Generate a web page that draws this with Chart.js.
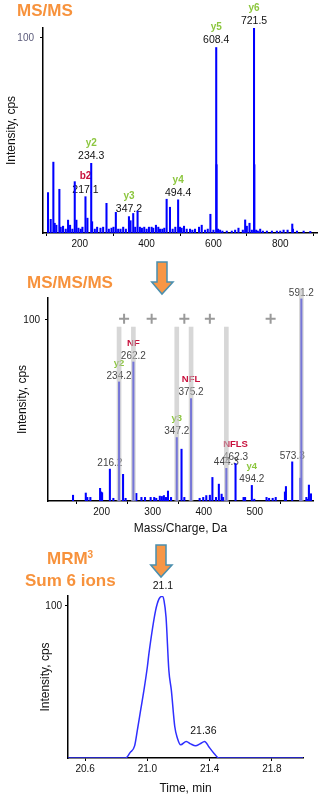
<!DOCTYPE html>
<html><head><meta charset="utf-8">
<script src="https://cdn.jsdelivr.net/npm/chart.js@4.4.1/dist/chart.umd.min.js"></script>
<style>
html,body{margin:0;padding:0;background:#fff;overflow:hidden;}
#wrap{position:relative;width:322px;height:800px;overflow:hidden;font-family:"Liberation Sans",Arial,sans-serif;}
canvas{position:absolute;left:0;}
.ttl{position:absolute;color:#F7923C;font-weight:bold;font-size:17px;line-height:19px;white-space:nowrap;}
svg{position:absolute;overflow:visible;}
</style></head><body>
<div id="wrap">
<canvas id="c1" width="322" height="260" style="top:0px"></canvas>
<canvas id="c2" width="322" height="280" style="top:260px"></canvas>
<canvas id="c3" width="322" height="260" style="top:540px"></canvas>
<div class="ttl" style="left:17px;top:1px">MS/MS</div>
<div class="ttl" style="left:27px;top:273px">MS/MS/MS</div>
<div class="ttl" style="left:47px;top:549px">MRM<span style="font-size:10px;position:relative;top:-6px">3</span></div>
<div class="ttl" style="left:25px;top:571px">Sum 6 ions</div>
<svg style="left:150.5px;top:261px" width="23" height="35"><polygon points="6,1 16,1 16,21 22,21 11,33 0.75,21 6,21" fill="#F79646" stroke="#4a8fae" stroke-width="1.5"/></svg>
<svg style="left:150px;top:544px" width="23" height="35"><polygon points="6,1 16,1 16,21 22,21 11,33 0.75,21 6,21" fill="#F79646" stroke="#4a8fae" stroke-width="1.5"/></svg>
</div>
<script>
// ---------- DATA ----------
// MS/MS spectrum
const ms1Mz  = [105,113,121,125,130,139,143,150,158,165,171,178,185,190,196,203,208,217.1,223,234.3,237,245,252,262,270,280,287,295,301,308,315,322,330,338,347.2,352,360,366,373,380,386,393,400,407,415,420,428,435,440,447,453,460,470,478,486,494.4,500,505,512,520,530,537,545,557,565,575,583,591,600,608.4,609.4,614,620,627,640,655,665,675,688,695,700,708,715,721.5,722.5,728,733,740,748,760,775,790,800,810,822,836,838,850,870,890];
const ms1Int = [20.7,7,36.3,5,4,22.4,3,3.5,2,6.6,4,2,26.3,6.6,2.5,2,3,18.6,7.6,35.7,5.8,2,3,2.5,3,15.2,2,2.5,3,10.6,2,2,3,2,8.4,6.3,10,3,11.3,3,2.5,3,2,3,3,2.5,4,3,2,2,2.5,17.3,13.2,2,3,17,3,2.5,3.5,2,2,1.5,2,3,4,1.5,2,9.6,1.5,95,35,2,1.5,1,1,1,1.5,2.5,1.5,6.7,3.5,5,1.5,105,35,1.5,1,2,1,1,1,1,1,1.5,1.5,4.6,2,1,1,0.8];
const ms1LabelMz  = [217.1,234.3,347.2,494.4,608.4,721.5];
const ms1LabelIon = ['b2','y2','y3','y4','y5','y6'];
const ms1XTicks = [200,400,600,800];
const ms1YTicks = [100];

// MS/MS/MS spectrum
const ms3Mz  = [144,169,172,178,197,199,201,216.2,223,234.2,242,247,262.2,268,278,285,296,303,307,314,318,322,326,330,336,347.2,356.5,362,375.2,392,399,405,412,417,424,429.6,435,438,444.3,462.3,478,481,494.2,499,523,528,535,541,559,561,573.3,589,591.2,601,604,606,610];
const ms3Int = [3.2,4.4,2,2,7,5,4.6,17.6,1.5,65.7,14.7,1.5,76.7,4.2,2,2,2,2,1.5,2.7,2.5,3,2,5.5,2,35,28.6,2,56.5,1.5,2,3,3.2,13,2,9.3,3.8,2,18,20.7,2,2,8.6,1,2,1.5,1.5,2,5,8,21.6,12.6,111.5,2,1,8.8,4];
const ms3BandMz  = [234.2,262.2,347.2,375.2,444.3,591.2];
const ms3BandTop = [96,96,96,96,96,117];
const ms3CrossMz = [244,298,362,412,531];
const ms3CrossY  = [100.5,100.5,100.5,100.5,100.5];
const ms3LabelMz  = [216.2,234.2,262.2,347.2,375.2,444.3,462.3,494.2,573.3,591.2];
const ms3LabelIon = ['','y2','NF','y3','NFL','','NFLS','y4','',''];
const ms3XTicks = [200,300,400,500];
const ms3YTicks = [100];

// MRM3 chromatogram
const mrmTime = [20.49,20.86,20.89,20.918,20.936,20.957,20.978,21.0,21.01,21.053,21.075,21.096,21.107,21.12,21.138,21.154,21.176,21.193,21.214,21.25,21.278,21.31,21.338,21.368,21.396,21.43,21.46,22.0];
const mrmInt  = [0,0,3.7,8,18.5,31.6,44.6,60,68.6,97,104.6,106.3,103.5,92.5,57.7,44.6,20.7,13,8.7,10.9,9.3,8,9.3,10.9,7.2,2.8,0,0];
const mrmLabelT = [21.1,21.36];
const mrmXTicks = [20.6,21.0,21.4,21.8];
const mrmYTicks = [100];

// ---------- RENDER ----------
const FONT = "'Liberation Sans', Arial, sans-serif";
const GREEN = '#8cc63e', CRIMSON = '#c8103c';

function nearest(xs, ys, v){
  let bi = 0;
  xs.forEach((x,i)=>{ if (Math.abs(x-v) < Math.abs(xs[bi]-v)) bi = i; });
  return ys[bi];
}
function mkLabels(xs, ys, lx, ions){
  return lx.map((v,i)=>({x:v, y:nearest(xs, ys, v), text:String(v), ion: ions ? ions[i] : ''}));
}

const peakLabels = {
  id:'peakLabels',
  beforeDatasetsDraw(chart, args, o){
    const {ctx} = chart; const xs = chart.scales.x, ys = chart.scales.y;
    ctx.save(); ctx.textAlign='center'; ctx.textBaseline='middle';
    o.items.forEach(it=>{
      const px = xs.getPixelForValue(it.x), py = ys.getPixelForValue(it.y);
      const ny = py - o.numOffset;
      ctx.font = o.numFont; ctx.fillStyle = o.numColor;
      ctx.fillText(it.text, px, ny);
      if (it.ion){
        ctx.font = o.ionFont;
        ctx.fillStyle = it.ion[0]==='y' ? GREEN : CRIMSON;
        ctx.fillText(it.ion, px, ny - o.ionGap);
      }
    });
    ctx.restore();
  }
};

function yAxis(max, ticks, width, tickColor, pad){
  return {
    type:'linear', min:0, max:max,
    afterBuildTicks: s => { s.ticks = ticks.map(v=>({value:v})); },
    afterFit: s => { s.width = width; s.paddingTop = 0; s.paddingBottom = 0; },
    grid:{display:true, drawOnChartArea:false, drawTicks:true, tickLength:3, color:'#000', lineWidth:1},
    border:{display:true, color:'#000', width:1.5},
    ticks:{color:tickColor, font:{size:10, family:FONT}, padding:pad},
    title:{display:true, text:'Intensity, cps', color:'#111', font:{size:12, family:FONT}, padding:{top:4,bottom:4}}
  };
}
function xAxis(min, max, ticks, height, title, fmt){
  return {
    type:'linear', min:min, max:max, offset:false,
    afterBuildTicks: s => { s.ticks = ticks.map(v=>({value:v})); },
    afterFit: s => { s.height = height; s.paddingLeft = 0; s.paddingRight = 0; },
    grid:{display:true, drawOnChartArea:false, drawTicks:true, tickLength:3, color:'#000', lineWidth:1},
    border:{display:true, color:'#000', width:1.5},
    ticks:{color:'#111', font:{size:10, family:FONT}, padding:2, maxRotation:0, autoSkip:false, callback:fmt},
    title: title ? {display:true, text:title, color:'#111', font:{size:12, family:FONT}, padding:{top:2,bottom:4}} : {display:false}
  };
}
const base = {responsive:false, animation:false, devicePixelRatio:1, events:[]};

// Chart 1
new Chart(document.getElementById('c1'), {
  type:'bar',
  data:{datasets:[{
    data: ms1Mz.map((m,i)=>({x:m, y:ms1Int[i]})),
    backgroundColor:'#0000ff', borderWidth:0, barThickness:1.4, grouped:false
  }]},
  options:Object.assign({}, base, {
    layout:{padding:{left:0, top:28, right:5, bottom:0}},
    scales:{
      x: xAxis(90, 910, ms1XTicks, 27, null, v=>String(v)),
      y: yAxis(105, ms1YTicks, 43, '#5b5b7b', 6)
    },
    plugins:{legend:{display:false}, tooltip:{enabled:false},
      peakLabels:{items: mkLabels(ms1Mz, ms1Int, ms1LabelMz, ms1LabelIon),
        numOffset:7, ionGap:13, numFont:'10.5px '+FONT, ionFont:'bold 10px '+FONT, numColor:'#111'}}
  }),
  plugins:[peakLabels]
});

// Chart 2
new Chart(document.getElementById('c2'), {
  type:'bar',
  data:{datasets:[
    {data: ms3Mz.map((m,i)=>({x:m, y:ms3Int[i]})), backgroundColor:'#0000ff', borderWidth:0, barThickness:1.4, grouped:false, order:3},
    {data: ms3BandMz.map((m,i)=>({x:m, y:ms3BandTop[i]})), backgroundColor:'rgba(190,190,190,0.62)', borderWidth:0, barThickness:4, grouped:false, order:2, clip:false},
    {type:'line', data: ms3CrossMz.map((m,i)=>({x:m, y:ms3CrossY[i]})), showLine:false, pointStyle:'cross', pointRadius:5, pointBorderWidth:2, pointBorderColor:'#9a9a9a', pointBackgroundColor:'#9a9a9a', order:1}
  ]},
  options:Object.assign({}, base, {
    layout:{padding:{left:11, top:38, right:9, bottom:0}},
    scales:{
      x: xAxis(95, 614, ms3XTicks, 39, 'Mass/Charge, Da', v=>String(v)),
      y: yAxis(112, ms3YTicks, 37, '#111', 5)
    },
    plugins:{legend:{display:false}, tooltip:{enabled:false},
      peakLabels:{items: mkLabels(ms3Mz, ms3Int, ms3LabelMz, ms3LabelIon),
        numOffset:6, ionGap:13, numFont:'10px '+FONT, ionFont:'bold 9.5px '+FONT, numColor:'#444'}}
  }),
  plugins:[peakLabels]
});

// Chart 3
new Chart(document.getElementById('c3'), {
  type:'line',
  data:{datasets:[{
    data: mrmTime.map((t,i)=>({x:t, y:mrmInt[i]})),
    borderColor:'#2f2fff', borderWidth:1.5, pointRadius:0, fill:false, cubicInterpolationMode:'monotone'
  }]},
  options:Object.assign({}, base, {
    layout:{padding:{left:34, top:56, right:19, bottom:0}},
    scales:{
      x: xAxis(20.49, 22.0, mrmXTicks, 42, 'Time, min', v=>v.toFixed(1)),
      y: yAxis(106.5, mrmYTicks, 34, '#111', 3)
    },
    plugins:{legend:{display:false}, tooltip:{enabled:false},
      peakLabels:{items: mkLabels(mrmTime, mrmInt, mrmLabelT, null),
        numOffset:10, ionGap:0, numFont:'10.5px '+FONT, ionFont:'10px '+FONT, numColor:'#111'}}
  }),
  plugins:[peakLabels]
});
</script>
</body></html>
